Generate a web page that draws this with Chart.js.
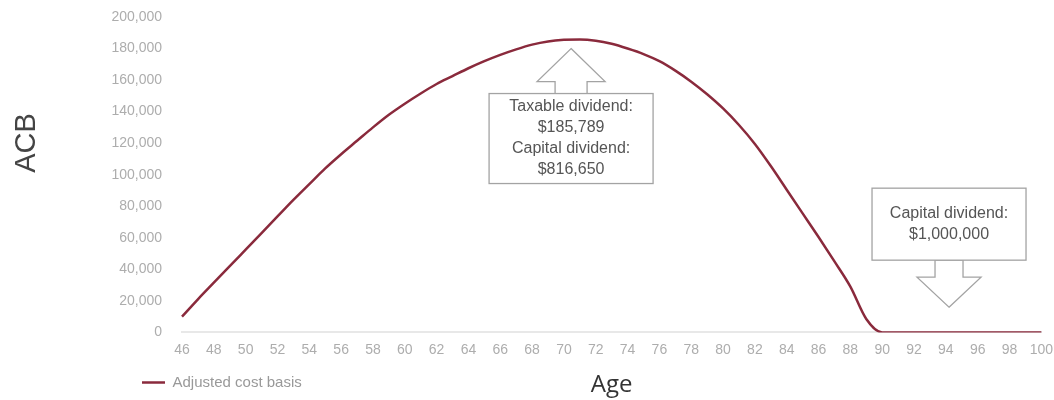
<!DOCTYPE html>
<html>
<head>
<meta charset="utf-8">
<script src="https://cdn.jsdelivr.net/npm/chart.js@4.4.0/dist/chart.umd.min.js"></script>
<style>
  html, body { margin: 0; padding: 0; background: #fff; }
  #wrap { width: 1054px; height: 400px; }
</style>
</head>
<body>
<div id="wrap"><canvas id="acbChart"></canvas></div>
<script>
// ages on the x axis
const ages = [46, 47, 48, 49, 50, 51, 52, 53, 54, 55, 56, 57, 58, 59, 60, 61, 62, 63, 64, 65,
  66, 67, 68, 69, 70, 71, 72, 73, 74, 75, 76, 77, 78, 79, 80, 81, 82, 83, 84, 85,
  86, 87, 88, 89, 90, 91, 92, 93, 94, 95, 96, 97, 98, 99, 100];

// adjusted cost basis
const acb = [10000, 21000, 31500, 42000, 52500, 63000, 73500, 84000, 94000, 104000,
  113000, 121500, 130000, 138000, 145000, 151500, 157500, 162500, 167500, 172000,
  176000, 179500, 182500, 184500, 185500, 185789, 185000, 183000, 180000, 176500,
  172000, 166000, 159000, 151000, 142000, 131500, 119500, 105500, 90500, 75500,
  60500, 45000, 29000, 8500, 0, 0, 0, 0, 0, 0, 0, 0, 0, 0, 0];

const yMax = 200000;
const yStep = 20000;

// callout boxes
const callouts = [
  { age: 70.45, value: 180000, dir: "up", lines: ["Taxable dividend:", "$185,789", "Capital dividend:", "$816,650"] },
  { age: 94.2, value: 16000, dir: "down", lines: ["Capital dividend:", "$1,000,000"] },
];

const lineColor = "#8a2a3c";
const font = "'Liberation Sans', Arial, sans-serif";

// invisible tick marks, used only as spacing between labels and plot
const hiddenTicks = (len) => ({
  display: true,
  drawOnChartArea: false,
  drawTicks: true,
  tickLength: len,
  tickColor: "rgba(0,0,0,0)",
  color: "rgba(0,0,0,0)",
});

// draws the arrow + box callouts and the rotated ACB label
const calloutPlugin = {
  id: "callouts",
  beforeDraw(chart) {
    // legend sits under the y labels, not at the canvas edge
    chart.legend.left = 136;
  },
  afterDraw(chart) {
    const { ctx, scales, chartArea } = chart;
    const step = scales.x.getPixelForValue(1) - scales.x.getPixelForValue(0);
    ctx.save();
    ctx.strokeStyle = "#a3a3a3";
    ctx.lineWidth = 1.3;
    ctx.fillStyle = "#fff";

    callouts.forEach(c => {
      const tx = scales.x.getPixelForValue(0) + (c.age - ages[0]) * step;
      const ty = scales.y.getPixelForValue(c.value);
      const up = c.dir === "up";
      const s = up ? 1 : -1;
      const headH = up ? 33 : 30, headW = up ? 34 : 32;
      const shaftH = up ? 12 : 17, shaftW = up ? 16 : 14;
      const boxW = up ? 164 : 154, boxH = up ? 90 : 72;
      const baseY = ty + s * headH;
      const boxEdge = baseY + s * shaftH;

      ctx.beginPath();
      ctx.moveTo(tx, ty);
      ctx.lineTo(tx + headW, baseY);
      ctx.lineTo(tx + shaftW, baseY);
      ctx.lineTo(tx + shaftW, boxEdge);
      ctx.lineTo(tx - shaftW, boxEdge);
      ctx.lineTo(tx - shaftW, baseY);
      ctx.lineTo(tx - headW, baseY);
      ctx.closePath();
      ctx.fill();
      ctx.stroke();

      const top = up ? boxEdge : boxEdge - boxH;
      ctx.fillRect(tx - boxW / 2, top, boxW, boxH);
      ctx.strokeRect(tx - boxW / 2, top, boxW, boxH);

      ctx.fillStyle = "#555";
      ctx.font = "16px " + font;
      ctx.textAlign = "center";
      ctx.textBaseline = "middle";
      const lh = 21;
      const y0 = top + boxH / 2 - (c.lines.length - 1) * lh / 2;
      c.lines.forEach((t, i) => ctx.fillText(t, tx, y0 + i * lh));
      ctx.fillStyle = "#fff";
    });

    // y axis title
    ctx.translate(27, chartArea.top + 126);
    ctx.rotate(-Math.PI / 2);
    ctx.fillStyle = "#444";
    ctx.font = "29px " + font;
    ctx.textAlign = "center";
    ctx.textBaseline = "middle";
    ctx.fillText("ACB", 0, 0);
    ctx.restore();
  }
};

Chart.defaults.font.family = font;

new Chart(document.getElementById("acbChart"), {
  type: "line",
  data: {
    labels: ages,
    datasets: [{
      label: "Adjusted cost basis",
      data: acb,
      borderColor: lineColor,
      backgroundColor: lineColor,
      borderWidth: 2.5,
      pointRadius: 0,
      cubicInterpolationMode: "monotone",
    }],
  },
  options: {
    responsive: true,
    maintainAspectRatio: false,
    animation: false,
    layout: { padding: { left: 0, right: 0, top: 17, bottom: 0 } },
    scales: {
      x: {
        ticks: {
          autoSkip: false,
          minRotation: 0,
          maxRotation: 0,
          padding: 1,
          color: "#adadad",
          font: { size: 14 },
          callback: (v, i) => (ages[i] % 2 === 0 ? ages[i] : ""),
        },
        grid: hiddenTicks(8),
        border: { display: true, color: "#e8e8e8", width: 2 },
        title: {
          display: true,
          text: "Age",
          color: "#333",
          font: { size: 24, family: "'Open Sans', sans-serif" },
          padding: { top: 12, bottom: -31 },
        },
      },
      y: {
        min: 0,
        max: yMax,
        ticks: {
          stepSize: yStep,
          padding: 3,
          color: "#adadad",
          font: { size: 14 },
          callback: v => v.toLocaleString("en-US"),
        },
        grid: hiddenTicks(17),
        border: { display: false },
        afterFit: s => { s.width = 182; },
      },
    },
    plugins: {
      legend: {
        position: "bottom",
        align: "start",
        labels: {
          usePointStyle: true,
          pointStyle: "line",
          pointStyleWidth: 23,
          padding: 6,
          color: "#999",
          font: { size: 15 },
        },
      },
      tooltip: { enabled: false },
    },
  },
  plugins: [calloutPlugin],
});
</script>
</body>
</html>
